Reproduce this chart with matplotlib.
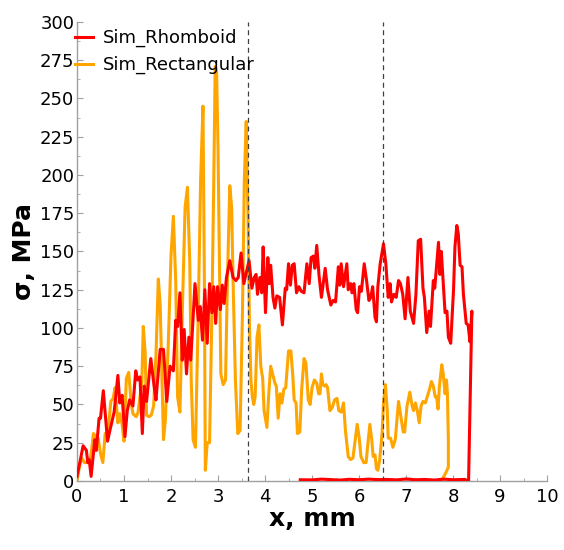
import matplotlib

matplotlib.use("Agg")
import matplotlib.pyplot as plt
from matplotlib.ticker import MultipleLocator


# Sim_Rhomboid: forward path, then the return path lying near zero
RHOMB_X = [
    0.0, 0.06, 0.13, 0.2, 0.23, 0.26, 0.3, 0.38, 0.41, 0.47, 0.5, 0.56, 0.6, 0.65, 0.7,
    0.79, 0.87, 0.91, 0.96, 1.02, 1.07, 1.12, 1.19, 1.25, 1.29, 1.34, 1.39, 1.43, 1.48,
    1.57, 1.64, 1.68, 1.77, 1.84, 1.91, 1.98, 2.05, 2.1, 2.14, 2.19, 2.24, 2.28, 2.33,
    2.38, 2.42, 2.51, 2.58, 2.62, 2.67, 2.72, 2.77, 2.82, 2.87, 2.91, 2.95, 2.99, 3.05,
    3.09, 3.13, 3.18, 3.25, 3.32, 3.38, 3.43, 3.49, 3.55, 3.6, 3.66, 3.72, 3.77, 3.81,
    3.84, 3.89, 3.93, 3.96, 4.01, 4.06, 4.09, 4.12, 4.17, 4.21, 4.25, 4.31, 4.37, 4.43,
    4.46, 4.5, 4.54, 4.58, 4.62, 4.67, 4.72, 4.77, 4.83, 4.89, 4.94, 4.98, 5.03, 5.06,
    5.1, 5.15, 5.2, 5.28, 5.33, 5.4, 5.45, 5.5, 5.56, 5.59, 5.62, 5.67, 5.74, 5.77, 5.82,
    5.85, 5.89, 5.94, 5.97, 6.01, 6.05, 6.11, 6.16, 6.21, 6.25, 6.29, 6.34, 6.37, 6.4,
    6.45, 6.52, 6.57, 6.62, 6.66, 6.69, 6.74, 6.79, 6.84, 6.88, 6.93, 6.98, 7.04, 7.09,
    7.16, 7.21, 7.26, 7.31, 7.36, 7.39, 7.44, 7.49, 7.52, 7.58, 7.61, 7.69, 7.72, 7.75,
    7.83, 7.87, 7.9, 7.95, 8.01, 8.04, 8.08, 8.11, 8.15, 8.19, 8.22, 8.28, 8.32, 8.36,
    8.4, 8.33,
    8.25, 8.0, 7.8, 7.6, 7.4, 7.2, 7.0, 6.8, 6.6, 6.4, 6.2, 6.0, 5.8, 5.6, 5.4, 5.2,
    5.0, 4.75,
]
RHOMB_Y = [
    3, 12, 23, 20, 12, 14, 3, 27, 20, 41, 41, 59, 44, 26, 33,
    45, 69, 51, 56, 29, 46, 53, 49, 72, 66, 68, 31, 62, 52,
    80, 62, 53, 86, 86, 52, 75, 72, 105, 101, 123, 79, 99, 70,
    94, 79, 129, 105, 114, 92, 125, 90, 129, 110, 127, 103, 127, 112,
    128, 116, 133, 144, 133, 131, 133, 149, 129, 136, 144, 126, 133, 135,
    122, 133, 123, 153, 110, 146, 129, 141, 120, 113, 121, 120, 102, 126,
    125, 142, 128, 141, 142, 123, 127, 124, 123, 142, 129, 146, 147, 139,
    154, 134, 120, 139, 125, 115, 118, 117, 140, 128, 142, 127, 142, 125, 129,
    123, 129, 112, 110, 127, 124, 142, 131, 118, 120, 127, 107, 104, 127,
    142, 155, 142, 120, 129, 117, 122, 120, 131, 129, 122, 106, 133, 111,
    103, 122, 157, 158, 126, 120, 97, 111, 101, 131, 126, 156, 135, 150,
    110, 111, 94, 90, 125, 153, 167, 162, 141, 140, 122, 103, 102, 91,
    111, 0,
    1.0, 0.8, 1.2, 0.6, 1.0, 0.8, 1.3, 0.7, 1.0, 0.9, 1.2, 0.8, 1.1, 0.6, 0.9, 1.2,
    0.7, 0.8,
]

# Sim_Rectangular
RECT_X = [
    0.0, 0.05, 0.1, 0.16, 0.23, 0.28, 0.31, 0.35, 0.4, 0.45, 0.5, 0.55, 0.6, 0.66, 0.72,
    0.77, 0.81, 0.87, 0.91, 0.96, 1.0, 1.05, 1.1, 1.15, 1.19, 1.22, 1.26, 1.3, 1.38,
    1.41, 1.45, 1.48, 1.53, 1.58, 1.63, 1.68, 1.73, 1.77, 1.84, 1.88, 1.94, 2.0, 2.05,
    2.1, 2.14, 2.19, 2.24, 2.3, 2.35, 2.4, 2.43, 2.47, 2.52, 2.58, 2.63, 2.68, 2.71,
    2.73, 2.77, 2.82, 2.87, 2.91, 2.94, 2.97, 3.0, 3.06, 3.11, 3.16, 3.2, 3.25, 3.29,
    3.32, 3.37, 3.42, 3.47, 3.52, 3.56, 3.6, 3.64, 3.67, 3.7, 3.73, 3.76, 3.79, 3.83,
    3.87, 3.91, 3.95, 3.98, 4.04, 4.08, 4.12, 4.17, 4.21, 4.24, 4.28, 4.32, 4.36, 4.4,
    4.44, 4.5, 4.55, 4.59, 4.62, 4.66, 4.69, 4.74, 4.78, 4.83, 4.87, 4.92, 4.96, 5.0,
    5.05, 5.1, 5.14, 5.17, 5.2, 5.23, 5.27, 5.3, 5.33, 5.38, 5.43, 5.48, 5.53, 5.57,
    5.62, 5.67, 5.71, 5.77, 5.82, 5.87, 5.92, 5.96, 6.0, 6.04, 6.1, 6.15, 6.19, 6.23,
    6.27, 6.3, 6.34, 6.37, 6.4, 6.44, 6.49, 6.52, 6.56, 6.6, 6.62, 6.67, 6.72, 6.77,
    6.84, 6.88, 6.94, 6.97, 7.02, 7.08, 7.13, 7.16, 7.2, 7.24, 7.28, 7.32, 7.36, 7.41,
    7.45, 7.5, 7.54, 7.58, 7.62, 7.65, 7.68, 7.71, 7.76, 7.79, 7.83, 7.86, 7.88, 7.9,
    7.9, 7.84, 7.76,
]
RECT_Y = [
    0, 9, 15, 12, 12, 14, 20, 31, 29, 28, 18, 12, 31, 32, 52,
    54, 61, 38, 44, 37, 26, 67, 71, 52, 44, 43, 42, 45, 65,
    101, 84, 43, 42, 43, 49, 82, 132, 115, 27, 40, 88, 147, 173,
    131, 55, 45, 110, 179, 192, 142, 66, 27, 22, 110, 197, 245, 131,
    7, 25, 25, 110, 197, 271, 268, 218, 70, 63, 66, 131, 193, 179,
    131, 66, 31, 33, 110, 197, 235, 170, 100, 66, 55, 50, 55, 94,
    102, 75, 67, 46, 35, 57, 75, 69, 64, 62, 41, 57, 51, 60,
    61, 85, 85, 69, 53, 51, 31, 32, 60, 80, 77, 53, 50, 61,
    66, 64, 57, 57, 70, 63, 62, 63, 61, 46, 48, 53, 54, 46,
    45, 51, 33, 16, 14, 15, 27, 37, 29, 16, 12, 12, 25, 37,
    27, 16, 17, 8, 7, 14, 31, 51, 63, 46, 28, 28, 22, 27,
    52, 44, 32, 32, 49, 58, 49, 46, 51, 46, 38, 49, 52, 51,
    55, 60, 65, 62, 55, 55, 47, 62, 76, 70, 57, 66, 57, 27,
    9, 5, 0.5,
]

DASHED_X = [3.64, 6.51]

X_TICKS = list(range(0, 11))
Y_TICKS = list(range(0, 301, 25))


def main() -> None:
    fig = plt.figure(figsize=(5.64, 5.50), dpi=100)
    ax = fig.add_axes([0.1365, 0.1255, 0.8335, 0.8345])

    ax.plot(RHOMB_X, RHOMB_Y, color="#ff0000", lw=2.2, label="Sim_Rhomboid", zorder=3)
    ax.plot(RECT_X, RECT_Y, color="#ffa500", lw=2.2, label="Sim_Rectangular", zorder=2)

    for xv in DASHED_X:
        ax.axvline(xv, color="#404040", lw=0.9, ls=(0, (4, 3)), zorder=4)

    ax.set_xlim(0, 10)
    ax.set_ylim(0, 300)
    ax.set_xticks(X_TICKS)
    ax.set_yticks(Y_TICKS)
    ax.xaxis.set_minor_locator(MultipleLocator(0.5))
    ax.yaxis.set_minor_locator(MultipleLocator(12.5))

    for side in ["top", "right"]:
        ax.spines[side].set_visible(False)
    for side in ["left", "bottom"]:
        ax.spines[side].set_color("#a0a0a0")
        ax.spines[side].set_linewidth(1.0)

    ax.tick_params(which="major", direction="in", length=4, width=0.8,
                   color="#a0a0a0", labelsize=13, pad=2)
    ax.tick_params(axis="x", which="major", pad=5)
    ax.tick_params(which="minor", direction="in", length=2.5, width=0.6,
                   color="#a0a0a0")

    ax.set_xlabel("x, mm", fontsize=18, fontweight="bold", labelpad=1)
    ax.set_ylabel("σ, MPa", fontsize=18, fontweight="bold", labelpad=3)

    ax.legend(loc="upper left", bbox_to_anchor=(-0.005, 0.985), frameon=False,
              fontsize=13, handlelength=1.0, handletextpad=0.55,
              labelspacing=0.5, borderpad=0.0, borderaxespad=0.0)

    fig.savefig("out.png", dpi=100)
    plt.close(fig)


if __name__ == "__main__":
    main()
